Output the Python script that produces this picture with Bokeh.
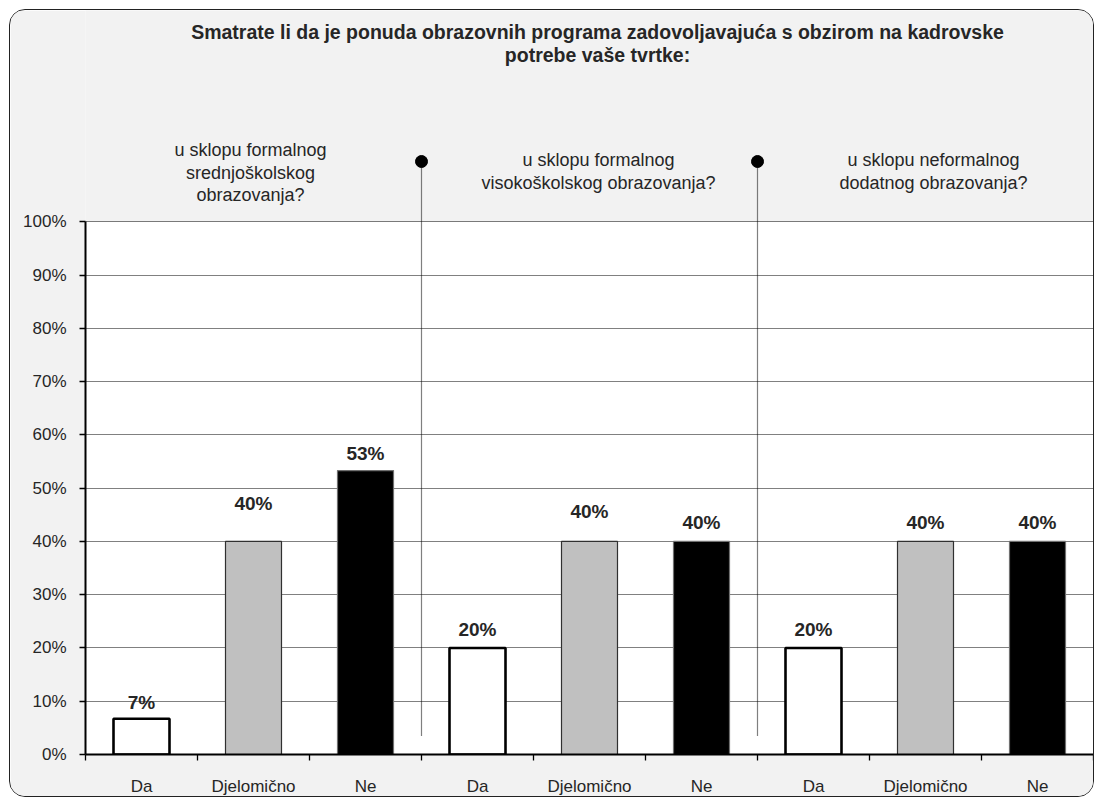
from bokeh.plotting import figure
from bokeh.models import ColumnDataSource, FixedTicker, PrintfTickFormatter, Range1d
from bokeh.core.properties import value
from bokeh.embed import file_html
from bokeh.resources import INLINE

# ---------------- data ----------------
title_text = ("Smatrate li da je ponuda obrazovnih programa zadovoljavajuća s obzirom na kadrovske\n"
              "potrebe vaše tvrtke:")
answers = ["Da", "Djelomično", "Ne"]
group_titles = [
    "u sklopu formalnog\nsrednjoškolskog\nobrazovanja?",
    "u sklopu formalnog\nvisokoškolskog obrazovanja?",
    "u sklopu neformalnog\ndodatnog obrazovanja?",
]
vals_srednje = [6.7, 40.0, 53.3]
vals_visoko = [20.0, 40.0, 40.0]
vals_neformalno = [20.0, 40.0, 40.0]
y_ticks = [0, 10, 20, 30, 40, 50, 60, 70, 80, 90, 100]

# ---------------- styles ----------------
FONT = "Liberation Sans"
fill_colors = {"Da": "#ffffff", "Djelomično": "#c0c0c0", "Ne": "#000000"}
line_colors = {"Da": "#000000", "Djelomično": "#303030", "Ne": "#707070"}
line_widths = {"Da": 2.6, "Djelomično": 1.2, "Ne": 1.2}
label_lift_px = [16, 38, 17, 18, 30, 19, 18, 19, 19]

# geometry (page pixels of the reference)
MARGIN = 9              # css margin of the figure host
CANVAS_TOP = MARGIN + 1  # + 1px css border
CANVAS_LEFT = MARGIN + 1
W, H = 1085, 788
MB_BOTTOM = 44
X0_PX = 85.0
UNIT_X_PX = 112.0
PX_PER_Y = 5.326
frame_h = H - MB_BOTTOM
Y0_PX = CANVAS_TOP + frame_h
y_max = frame_h / PX_PER_Y


def ydata(page_y):
    return (Y0_PX - page_y) / PX_PER_Y


def xdata(page_x):
    return (page_x - X0_PX) / UNIT_X_PX


all_vals = vals_srednje + vals_visoko + vals_neformalno
cats = answers * 3
n = len(all_vals)
xs = [i + 0.5 for i in range(n)]

src = ColumnDataSource(dict(
    x=xs,
    top=all_vals,
    fill=[fill_colors[c] for c in cats],
    line=[line_colors[c] for c in cats],
    lw=[line_widths[c] for c in cats],
    label=[f"{round(v)}%" for v in all_vals],
    yoff=[-l for l in label_lift_px],
))

mbl = int(X0_PX - CANVAS_LEFT)
mbr = int(W - mbl - n * UNIT_X_PX)

p = figure(width=W, height=H, output_backend="svg", toolbar_location=None,
           x_range=Range1d(0, n), y_range=Range1d(0, y_max),
           min_border_left=mbl, min_border_right=mbr,
           min_border_top=0, min_border_bottom=MB_BOTTOM)
p.title.visible = False
p.background_fill_color = "#f2f2f2"
p.border_fill_color = "#f2f2f2"
p.outline_line_color = None
p.styles = {"border": "1px solid #222222", "border-radius": "16px", "overflow": "hidden",
            "margin-left": f"{MARGIN}px", "margin-top": f"{MARGIN}px"}

# white plotting area
pa = p.quad(left=[0], right=[n], bottom=[0], top=[y_ticks[-1]], fill_color="white", line_color=None)
pa.level = "image"

# grid
p.xgrid.visible = False
p.ygrid.ticker = FixedTicker(ticks=y_ticks[1:])
p.ygrid.grid_line_color = "#000000"
p.ygrid.grid_line_dash = "1 1"
p.ygrid.grid_line_width = 1
p.ygrid.grid_line_alpha = 1.0

# dividers between the groups
div_x = [3, 6]
p.segment(x0=div_x, x1=div_x, y0=[ydata(735)] * 2, y1=[ydata(161)] * 2,
          line_color="#000000", line_dash="1 1", line_width=1.2)
p.scatter(x=div_x, y=[ydata(161)] * 2, size=12, fill_color="#000000", line_color="#000000")

# bars
p.vbar(x="x", top="top", bottom=0, width=0.5, source=src,
       fill_color="fill", line_color="line", line_width="lw")

# value labels
p.text(x="x", y="top", text="label", source=src, y_offset="yoff",
       text_align="center", text_baseline="middle",
       text_font=value(FONT), text_font_style="bold", text_font_size="19px",
       text_color="#262626")

# title
p.text(x=[xdata(597)], y=[ydata(43)], text=[title_text], text_align="center",
       text_baseline="middle", text_font=value(FONT), text_font_style="bold",
       text_font_size="19.5px", text_color="#262626", text_line_height=1.03)

# group titles
gx = [xdata(250), xdata(598), xdata(933)]
gy = [ydata(172.3), ydata(171), ydata(171)]
p.text(x=gx, y=gy, text=group_titles, text_align="center", text_baseline="middle",
       text_font=value(FONT), text_font_size="18px", text_color="#262626",
       text_line_height=1.12)

# axes
xa = p.xaxis[0]
xa.ticker = FixedTicker(ticks=xs, minor_ticks=list(range(n + 1)))
xa.major_label_overrides = {x: c for x, c in zip(xs, cats)}
xa.axis_line_width = 2
xa.axis_line_color = "#000000"
xa.major_tick_line_color = None
xa.major_tick_out = 0
xa.major_tick_in = 0
xa.minor_tick_line_color = "#000000"
xa.minor_tick_line_width = 1.3
xa.minor_tick_out = 6
xa.minor_tick_in = 0
xa.major_label_standoff = 16
xa.major_label_text_font = FONT
xa.major_label_text_font_size = "17px"
xa.major_label_text_color = "#262626"

ya = p.yaxis[0]
ya.bounds = (0, 100)
ya.ticker = FixedTicker(ticks=y_ticks, minor_ticks=[])
ya.formatter = PrintfTickFormatter(format="%d%%")
ya.axis_line_width = 2
ya.axis_line_color = "#000000"
ya.major_tick_line_color = "#000000"
ya.major_tick_line_width = 1.3
ya.major_tick_out = 6
ya.major_tick_in = 0
ya.minor_tick_line_color = None
ya.major_label_standoff = 13
ya.major_label_text_font = FONT
ya.major_label_text_font_size = "17px"
ya.major_label_text_color = "#262626"

open("out.html", "w").write(file_html(p, INLINE))
